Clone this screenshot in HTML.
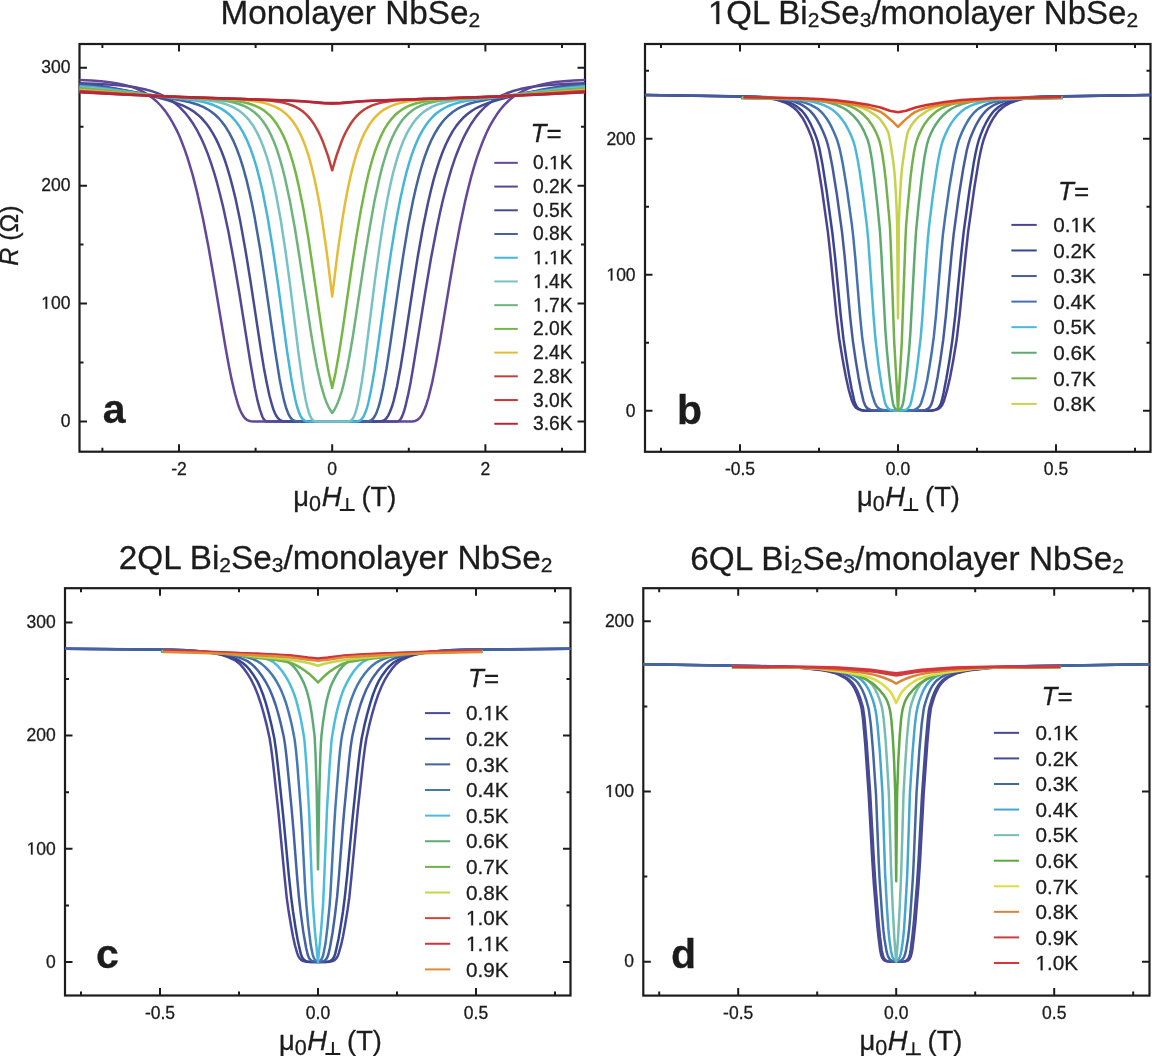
<!DOCTYPE html>
<html><head><meta charset="utf-8"><style>
html,body{margin:0;padding:0;background:#fff;width:1152px;height:1056px;overflow:hidden}
svg{display:block;transform:translateZ(0)}
text{font-family:"Liberation Sans", sans-serif;fill:#1c1c1c;stroke:#1c1c1c;stroke-width:0.3px}
.tk{font-size:17.5px}
.lga{font-size:19.3px}
.lgb{font-size:20.7px}
.teq{font-size:26px}
.ax{font-size:27.3px}
.yl{font-size:25px}
.axs{font-size:21.5px}
.ti{font-size:33px}
.sb{font-size:21px}
.h1{fill:none;stroke:none}
.pl{font-size:41px;font-weight:bold}
</style></head><body>
<svg width="1152" height="1056" viewBox="0 0 1152 1056">
<path d="M179.00 451.70v-7.5M179.00 44.00v7.5M332.20 451.70v-7.5M332.20 44.00v7.5M485.40 451.70v-7.5M485.40 44.00v7.5M102.40 451.70v-4M102.40 44.00v4M255.60 451.70v-4M255.60 44.00v4M408.80 451.70v-4M408.80 44.00v4M562.00 451.70v-4M562.00 44.00v4M79.50 421.50h7.5M585.00 421.50h-7.5M79.50 303.57h7.5M585.00 303.57h-7.5M79.50 185.64h7.5M585.00 185.64h-7.5M79.50 67.71h7.5M585.00 67.71h-7.5M79.50 362.53h4M585.00 362.53h-4M79.50 244.60h4M585.00 244.60h-4M79.50 126.68h4M585.00 126.68h-4" stroke="#1c1c1c" stroke-width="2" fill="none"/>
<rect x="79.50" y="44.00" width="505.50" height="407.70" stroke="#1c1c1c" stroke-width="2.2" fill="none"/>
<text x="179.00" y="474.50" text-anchor="middle" class="tk">-2</text>
<text x="332.20" y="474.50" text-anchor="middle" class="tk">0</text>
<text x="485.40" y="474.50" text-anchor="middle" class="tk">2</text>
<text x="70.40" y="426.70" text-anchor="end" class="tk">0</text>
<text x="70.40" y="308.77" text-anchor="end" class="tk"><tspan class="h1">1</tspan>00</text>
<text x="70.40" y="190.84" text-anchor="end" class="tk">200</text>
<text x="70.40" y="72.91" text-anchor="end" class="tk">300</text>
<path d="M79.5 79.9 91.1 80.5 101.1 81.3 109.7 82.2 117.4 83.4 124.5 84.9 130.9 86.7 136.8 88.9 142.2 91.3 147.2 94.2 152.1 97.6 156.7 101.5 161.1 106.0 165.3 111.1 169.1 116.7 172.8 122.9 176.4 129.6 179.3 135.8 181.9 142.3 184.6 149.4 187.3 157.2 192.6 174.6 197.6 194.4 203.0 218.8 208.4 246.6 213.6 276.3 225.4 346.8 228.6 364.5 231.5 378.9 234.9 393.5 238.2 405.0 239.9 409.5 241.6 413.2 243.3 416.1 245.0 418.2 246.8 419.8 248.7 420.7 250.9 421.3 253.6 421.5 407.4 421.5 412.3 421.4 415.2 420.9 417.5 419.8 419.7 417.9 421.9 414.9 424.1 410.5 426.3 404.7 428.5 397.5 432.2 382.4 436.2 362.2 440.3 339.4 450.2 279.7 454.9 252.6 460.1 225.0 465.0 201.9 467.9 189.7 470.9 177.9 473.8 167.7 476.8 157.9 479.9 149.1 483.1 140.8 486.3 133.3 489.6 126.4 493.2 120.1 496.9 114.3 500.6 109.3 504.6 104.6 508.8 100.5 513.4 96.8 518.3 93.5 523.3 90.8 528.7 88.4 534.4 86.4 540.9 84.7 547.8 83.3 555.3 82.1 563.9 81.2 573.7 80.5 585.0 79.9" stroke="#63479a" stroke-width="2.5" fill="none" stroke-linejoin="round"/>
<path d="M79.5 83.2 95.0 83.7 107.8 84.4 118.8 85.2 128.4 86.3 137.0 87.6 144.7 89.2 151.6 91.1 158.0 93.4 164.1 96.2 169.8 99.5 175.0 103.2 179.9 107.4 184.6 112.3 189.0 117.7 193.2 123.8 197.3 130.7 200.8 137.6 204.2 145.0 207.6 153.4 210.8 162.3 214.0 172.3 217.0 182.7 220.0 194.2 222.9 206.1 228.5 232.0 234.2 262.7 239.6 294.7 250.2 361.5 254.9 388.2 257.6 400.9 260.0 409.9 262.3 416.5 263.3 418.5 264.5 420.1 265.9 421.2 267.4 421.5 396.8 421.5 398.3 421.3 399.6 420.4 401.0 418.6 402.3 415.9 403.7 412.3 405.2 407.2 408.2 394.4 410.8 381.4 413.6 364.9 425.3 292.0 431.0 258.3 437.1 226.5 440.1 212.3 443.1 199.3 446.0 188.0 448.9 177.6 451.7 168.2 454.7 159.1 457.8 151.0 461.0 143.2 464.2 136.3 467.6 129.9 471.6 123.2 475.8 117.1 480.2 111.8 484.9 107.0 489.8 102.9 495.0 99.2 500.7 96.0 506.8 93.3 513.2 91.0 520.1 89.1 527.7 87.6 536.3 86.3 545.7 85.2 556.7 84.4 569.5 83.7 585.0 83.2" stroke="#544795" stroke-width="2.5" fill="none" stroke-linejoin="round"/>
<path d="M79.5 84.0 89.6 84.8 100.4 86.1 112.4 87.9 125.7 90.4 142.2 93.8 157.0 97.3 168.1 100.3 177.1 103.3 183.1 105.7 188.5 108.3 193.1 111.1 197.4 114.4 201.7 118.3 205.5 122.6 209.2 127.5 212.6 132.8 215.8 138.6 218.8 144.9 221.7 151.8 224.6 159.5 227.4 168.2 230.1 177.4 232.8 187.6 235.4 198.1 240.4 222.1 245.6 251.0 250.5 281.3 261.1 351.0 263.8 367.4 266.4 381.2 269.4 395.5 272.3 406.0 273.6 409.9 275.1 413.5 276.6 416.3 278.2 418.4 279.7 419.8 281.4 420.7 283.2 421.3 285.6 421.5 375.0 421.5 379.6 421.4 382.1 421.0 384.3 420.1 386.2 418.5 388.2 415.6 390.0 411.8 391.9 406.8 393.8 400.4 397.0 386.6 400.5 367.8 404.2 345.0 413.3 285.0 417.8 256.4 422.9 227.8 427.8 203.7 430.7 191.3 433.5 180.1 436.6 169.5 439.6 160.2 442.8 151.5 446.0 144.0 449.4 137.1 452.9 130.9 456.3 125.9 460.0 121.3 463.8 117.2 468.1 113.5 472.3 110.5 476.8 107.8 482.2 105.3 488.4 102.9 497.5 100.0 508.7 97.0 523.7 93.5 540.0 90.1 553.0 87.8 564.4 86.0 575.1 84.7 585.0 84.0" stroke="#464a90" stroke-width="2.5" fill="none" stroke-linejoin="round"/>
<path d="M79.5 85.0 87.6 85.6 96.2 86.4 115.9 89.1 173.2 98.9 183.0 100.7 189.9 102.2 194.9 103.7 199.5 105.3 203.7 107.2 207.6 109.3 211.3 111.7 214.8 114.5 218.0 117.5 221.2 121.0 225.4 126.6 229.3 132.9 233.0 140.1 236.5 148.3 239.9 157.4 243.1 167.5 246.3 179.1 249.3 191.6 252.0 204.0 254.7 217.6 260.1 248.7 265.0 280.7 275.0 350.0 279.5 378.4 281.9 390.8 284.2 401.2 286.4 408.8 288.6 414.3 290.5 417.6 292.3 419.6 294.3 420.8 296.9 421.4 362.9 421.5 367.1 421.4 369.5 421.0 371.5 420.1 373.2 418.5 375.0 415.8 376.7 412.2 378.4 407.4 380.1 401.4 383.1 387.8 386.5 368.9 390.0 346.0 399.0 283.4 403.4 254.4 408.2 225.3 413.1 200.3 416.0 187.5 418.9 176.1 421.9 165.5 424.9 156.2 428.1 147.6 431.3 140.2 434.7 133.6 438.4 127.5 441.6 123.0 445.1 118.8 448.9 115.2 452.7 112.0 456.9 109.2 461.3 106.9 466.2 104.8 471.6 103.0 478.2 101.4 488.6 99.3 546.6 89.4 567.5 86.5 576.4 85.6 585.0 85.0" stroke="#41659f" stroke-width="2.5" fill="none" stroke-linejoin="round"/>
<path d="M79.5 86.3 93.1 87.3 108.7 89.1 157.9 95.9 191.7 99.9 202.7 101.8 208.1 103.2 213.0 104.8 217.5 106.8 221.5 108.9 225.4 111.4 229.0 114.2 232.3 117.4 235.5 121.0 239.6 126.6 243.5 133.1 247.0 140.3 250.4 148.4 253.6 157.5 256.8 168.1 259.8 179.7 262.7 192.0 267.7 217.7 272.9 249.3 277.7 281.8 286.9 350.0 291.0 376.8 293.2 389.3 295.2 399.1 297.2 407.0 299.1 412.6 300.7 416.3 302.4 418.8 304.3 420.4 305.5 421.0 306.6 421.3 309.8 421.5 353.0 421.5 356.7 421.4 358.7 421.1 360.6 420.2 362.2 418.5 363.9 415.8 365.4 412.3 367.0 407.8 368.5 402.2 371.3 388.7 374.4 370.9 377.7 348.1 386.5 283.5 390.9 253.1 395.8 222.8 400.5 197.9 403.4 184.9 406.2 173.3 409.1 163.1 412.1 153.7 415.3 145.2 418.5 137.9 422.1 131.1 425.8 125.2 429.0 120.9 432.5 117.0 436.2 113.5 440.3 110.5 444.5 108.0 449.2 105.7 454.2 103.9 460.0 102.3 465.9 101.0 472.4 100.0 506.6 95.9 554.8 89.2 570.8 87.4 585.0 86.3" stroke="#45b5d9" stroke-width="2.5" fill="none" stroke-linejoin="round"/>
<path d="M79.5 87.4 91.6 88.2 104.9 89.5 148.2 94.7 163.9 96.5 201.8 99.5 209.1 100.4 215.5 101.5 221.2 102.8 226.3 104.3 230.8 106.1 235.0 108.2 238.9 110.6 242.6 113.4 246.1 116.8 249.3 120.4 253.4 126.1 257.1 132.6 260.6 140.0 263.8 148.2 267.0 157.7 270.1 168.4 272.9 179.9 275.8 193.2 280.7 219.8 285.6 251.8 290.0 284.4 298.5 353.1 302.1 378.7 303.9 390.3 305.6 399.4 307.3 407.0 308.8 412.4 310.2 416.0 311.7 418.8 313.2 420.4 315.1 421.3 317.3 421.5 346.2 421.5 348.9 421.4 350.6 420.8 352.1 419.5 353.6 417.2 355.2 413.5 356.5 409.2 358.0 403.0 359.5 395.4 361.9 381.3 364.6 362.5 375.0 279.7 380.1 242.9 382.8 225.4 385.3 210.4 388.0 196.0 390.7 183.2 393.2 172.5 395.8 163.1 398.3 154.7 401.0 147.0 403.9 139.8 406.7 133.7 409.8 128.1 413.0 123.2 416.2 119.1 419.7 115.3 423.4 112.1 427.5 109.3 431.8 106.9 436.6 104.9 441.8 103.2 447.5 101.8 454.4 100.5 462.3 99.6 500.4 96.5 516.1 94.8 559.4 89.5 572.9 88.2 585.0 87.4" stroke="#78c2c6" stroke-width="2.5" fill="none" stroke-linejoin="round"/>
<path d="M79.5 88.3 91.1 89.1 103.9 90.2 161.7 96.2 177.6 97.4 209.9 99.2 219.7 100.1 227.8 101.3 233.7 102.5 238.9 104.0 243.6 105.7 247.8 107.8 251.7 110.2 255.4 113.1 259.0 116.5 262.2 120.3 265.5 125.0 268.6 130.2 271.4 135.9 274.3 142.6 277.0 149.9 279.7 158.3 282.4 167.8 284.9 177.8 289.8 200.4 294.7 227.2 299.4 256.6 310.9 332.4 314.1 351.5 317.1 367.7 320.8 384.3 324.4 396.7 326.2 401.7 328.2 406.3 330.2 410.0 332.2 413.0 334.3 410.0 336.2 406.3 338.1 401.9 340.0 396.7 341.9 390.8 343.7 383.9 347.4 367.2 350.4 351.0 353.6 331.7 364.9 257.0 369.7 227.7 374.7 199.9 379.6 177.4 382.1 167.4 384.7 158.5 387.3 150.1 390.0 142.8 392.9 136.1 395.8 130.3 398.8 125.1 402.2 120.3 405.4 116.6 408.9 113.2 412.6 110.3 416.5 107.8 420.9 105.7 425.6 103.9 430.8 102.5 436.7 101.2 444.8 100.1 454.6 99.2 486.9 97.4 502.6 96.2 560.4 90.2 573.4 89.1 585.0 88.3" stroke="#6cb47c" stroke-width="2.5" fill="none" stroke-linejoin="round"/>
<path d="M79.5 89.1 102.8 90.8 162.6 96.3 179.3 97.3 217.5 99.1 228.5 100.0 237.2 101.1 243.5 102.2 248.8 103.5 253.7 105.2 258.1 107.1 262.2 109.3 266.0 112.1 269.6 115.2 272.8 118.7 276.6 123.8 280.2 129.6 283.6 136.3 286.8 143.8 289.8 152.3 292.8 162.2 295.7 172.9 298.5 185.1 303.3 208.5 308.2 237.1 312.5 265.9 321.6 329.0 325.5 353.8 328.9 372.9 332.2 388.1 335.5 372.9 339.0 353.2 342.9 328.3 351.8 266.3 356.2 237.6 361.1 208.9 365.8 185.4 368.6 173.2 371.5 162.4 374.5 152.5 377.6 144.0 380.8 136.4 384.1 129.7 387.7 123.9 391.6 118.8 394.8 115.3 398.3 112.2 402.2 109.4 406.2 107.1 410.6 105.2 415.5 103.5 420.9 102.2 427.1 101.1 435.9 100.0 446.8 99.1 485.2 97.3 501.9 96.3 561.6 90.8 585.0 89.1" stroke="#74b747" stroke-width="2.5" fill="none" stroke-linejoin="round"/>
<path d="M79.5 90.1 100.1 91.4 145.0 95.0 165.1 96.4 182.3 97.3 229.1 99.1 240.4 99.8 249.5 100.6 255.6 101.4 261.0 102.3 265.7 103.4 270.1 104.8 274.1 106.3 277.8 108.1 281.4 110.3 284.6 112.7 288.8 116.6 292.7 121.2 296.2 126.4 299.6 132.5 302.8 139.5 305.8 147.4 308.7 156.2 311.5 166.5 314.2 177.7 316.7 189.6 319.3 203.0 321.8 218.1 326.9 253.2 332.2 296.6 337.6 252.4 342.7 217.5 345.2 202.5 347.8 189.1 350.3 177.2 353.0 166.1 355.8 155.9 358.7 147.2 361.7 139.3 364.9 132.3 368.3 126.3 371.8 121.1 375.7 116.5 379.9 112.6 383.1 110.2 386.7 108.1 390.4 106.3 394.4 104.7 398.8 103.4 403.5 102.3 408.9 101.3 415.0 100.6 424.1 99.8 435.4 99.1 482.2 97.3 499.2 96.4 519.3 95.0 564.4 91.4 585.0 90.1" stroke="#e6bb36" stroke-width="2.5" fill="none" stroke-linejoin="round"/>
<path d="M79.5 90.9 145.6 95.3 169.3 96.6 189.2 97.4 244.5 99.1 260.6 99.9 269.4 100.6 276.6 101.5 282.9 102.6 288.4 104.1 292.3 105.5 296.0 107.2 299.4 109.1 302.6 111.3 305.6 113.9 308.5 116.9 311.2 120.1 313.7 123.7 316.2 127.8 318.6 132.2 321.0 137.2 323.3 142.8 327.9 155.6 332.2 170.3 336.6 155.3 341.2 142.5 343.5 136.9 345.9 132.0 348.3 127.6 350.8 123.5 353.3 120.0 356.0 116.7 358.9 113.8 361.9 111.3 365.1 109.0 368.5 107.1 372.2 105.4 376.1 104.1 381.5 102.6 387.7 101.5 394.9 100.6 403.7 99.9 419.9 99.1 475.3 97.4 495.2 96.6 518.9 95.3 585.0 90.9" stroke="#c0413a" stroke-width="2.5" fill="none" stroke-linejoin="round"/>
<path d="M79.5 91.9 123.8 94.4 168.6 96.4 205.4 97.8 288.6 100.4 302.9 101.3 324.6 103.4 332.2 103.8 339.8 103.4 361.4 101.3 375.9 100.4 459.1 97.8 495.9 96.4 540.7 94.4 585.0 91.9" stroke="#cf3336" stroke-width="2.5" fill="none" stroke-linejoin="round"/>
<path d="M79.5 92.2 123.0 94.6 167.1 96.5 203.7 97.8 285.7 100.4 301.4 101.2 323.5 102.8 332.2 103.1 341.0 102.8 362.9 101.2 378.6 100.4 460.8 97.8 497.4 96.5 541.5 94.6 585.0 92.2" stroke="#b1283a" stroke-width="2.5" fill="none" stroke-linejoin="round"/>
<text x="530.60" y="141.50" class="teq"><tspan font-style="italic">T</tspan>=</text>
<path d="M494.30 162.85h23.5" stroke="#63479a" stroke-width="2.0"/>
<text x="533.00" y="169.30" class="lga">0.<tspan class="h1">1</tspan>K</text>
<path d="M494.30 186.57h23.5" stroke="#544795" stroke-width="2.0"/>
<text x="533.00" y="193.02" class="lga">0.2K</text>
<path d="M494.30 210.29h23.5" stroke="#464a90" stroke-width="2.0"/>
<text x="533.00" y="216.74" class="lga">0.5K</text>
<path d="M494.30 234.01h23.5" stroke="#41659f" stroke-width="2.0"/>
<text x="533.00" y="240.46" class="lga">0.8K</text>
<path d="M494.30 257.73h23.5" stroke="#45b5d9" stroke-width="2.0"/>
<text x="533.00" y="264.18" class="lga"><tspan class="h1">1</tspan>.<tspan class="h1">1</tspan>K</text>
<path d="M494.30 281.45h23.5" stroke="#78c2c6" stroke-width="2.0"/>
<text x="533.00" y="287.90" class="lga"><tspan class="h1">1</tspan>.4K</text>
<path d="M494.30 305.17h23.5" stroke="#6cb47c" stroke-width="2.0"/>
<text x="533.00" y="311.62" class="lga"><tspan class="h1">1</tspan>.7K</text>
<path d="M494.30 328.89h23.5" stroke="#74b747" stroke-width="2.0"/>
<text x="533.00" y="335.34" class="lga">2.0K</text>
<path d="M494.30 352.61h23.5" stroke="#e6bb36" stroke-width="2.0"/>
<text x="533.00" y="359.06" class="lga">2.4K</text>
<path d="M494.30 376.33h23.5" stroke="#c0413a" stroke-width="2.0"/>
<text x="533.00" y="382.78" class="lga">2.8K</text>
<path d="M494.30 400.05h23.5" stroke="#cf3336" stroke-width="2.0"/>
<text x="533.00" y="406.50" class="lga">3.0K</text>
<path d="M494.30 423.77h23.5" stroke="#b1283a" stroke-width="2.0"/>
<text x="533.00" y="430.22" class="lga">3.6K</text>
<text x="102.7" y="423.3" class="pl">a</text>
<g transform="translate(293.30 505.70)"><text x="0" y="0" class="ax">μ</text><text x="15.8" y="5.5" class="axs">0</text><text x="28.4" y="0" class="ax" font-style="italic">H</text><path d="M46.5 4.4H61.4M54 -7.6V4.4" stroke="#1c1c1c" stroke-width="2" fill="none"/><text x="68.2" y="0" class="ax">(T)</text></g>
<text transform="translate(17.8 265.8) rotate(-90)" class="yl"><tspan font-style="italic">R</tspan> (Ω)</text>
<text x="220.50" y="24.00" class="ti" style="font-size:33.3px">Monolayer NbSe<tspan class="sb" dy="3">2</tspan></text>
<path d="M740.00 451.80v-7.5M740.00 44.00v7.5M898.00 451.80v-7.5M898.00 44.00v7.5M1056.00 451.80v-7.5M1056.00 44.00v7.5M661.00 451.80v-4M661.00 44.00v4M819.00 451.80v-4M819.00 44.00v4M977.00 451.80v-4M977.00 44.00v4M1135.00 451.80v-4M1135.00 44.00v4M645.00 410.80h7.5M1150.50 410.80h-7.5M645.00 274.80h7.5M1150.50 274.80h-7.5M645.00 138.80h7.5M1150.50 138.80h-7.5M645.00 342.80h4M1150.50 342.80h-4M645.00 206.80h4M1150.50 206.80h-4M645.00 70.80h4M1150.50 70.80h-4" stroke="#1c1c1c" stroke-width="2" fill="none"/>
<rect x="645.00" y="44.00" width="505.50" height="407.80" stroke="#1c1c1c" stroke-width="2.2" fill="none"/>
<text x="740.00" y="474.50" text-anchor="middle" class="tk">-0.5</text>
<text x="898.00" y="474.50" text-anchor="middle" class="tk">0.0</text>
<text x="1056.00" y="474.50" text-anchor="middle" class="tk">0.5</text>
<text x="635.60" y="416.50" text-anchor="end" class="tk">0</text>
<text x="635.60" y="280.50" text-anchor="end" class="tk"><tspan class="h1">1</tspan>00</text>
<text x="635.60" y="144.50" text-anchor="end" class="tk">200</text>
<path d="M645.0 95.0 739.5 96.5 755.7 97.0 766.5 97.9 771.4 98.6 777.6 100.1 782.2 101.5 786.4 103.2 790.1 105.2 793.8 107.8 796.6 110.3 799.3 113.4 802.4 117.7 805.2 122.7 808.1 128.7 810.8 135.4 812.5 140.1 814.0 145.5 815.7 152.9 817.4 161.5 821.8 188.5 828.0 232.8 830.5 255.8 836.4 315.2 839.3 339.0 842.7 359.8 845.9 377.0 848.7 389.6 851.7 400.1 853.3 403.9 855.1 406.8 856.3 408.0 857.5 408.8 860.3 409.9 863.5 410.5 868.1 410.7 893.5 410.8 926.1 410.7 931.3 410.6 934.7 410.1 937.9 409.1 940.2 407.5 942.2 404.9 943.9 401.1 947.1 390.2 950.0 377.8 953.2 360.7 956.6 340.1 959.6 315.1 965.7 254.1 968.2 231.4 974.4 187.3 978.8 160.6 980.5 152.1 982.2 144.8 983.5 140.1 985.5 134.5 988.2 127.9 991.1 122.0 994.0 117.2 997.0 113.0 999.5 110.2 1002.4 107.7 1006.1 105.1 1009.8 103.1 1014.0 101.5 1018.6 100.0 1024.6 98.6 1029.5 97.9 1040.3 97.0 1056.5 96.5 1150.5 95.0" stroke="#4a4390" stroke-width="2.5" fill="none" stroke-linejoin="round"/>
<path d="M645.0 95.0 746.9 96.6 760.4 97.1 771.0 98.0 776.4 98.9 782.5 100.2 787.0 101.7 791.4 103.4 795.3 105.6 799.0 108.2 801.9 110.8 804.6 114.0 807.6 118.5 810.6 123.9 813.5 130.2 816.2 137.1 817.7 141.7 819.2 147.6 822.4 163.9 826.6 190.8 832.5 234.0 835.1 257.5 840.8 316.1 843.5 339.4 846.4 359.0 849.1 375.4 851.6 388.8 854.3 400.8 855.5 404.3 857.0 407.1 858.8 408.9 861.2 410.0 863.7 410.5 867.4 410.7 887.9 410.8 925.2 410.8 929.9 410.7 933.0 410.4 935.8 409.6 938.0 408.2 939.7 406.0 941.1 402.9 942.1 399.4 943.6 392.7 946.4 378.2 949.3 361.1 952.3 340.6 955.2 316.0 961.1 255.7 963.6 232.6 969.7 188.5 973.9 161.9 975.6 153.0 977.3 145.5 978.8 140.0 980.8 134.4 983.5 127.8 986.4 122.0 989.4 116.9 992.6 112.5 995.3 109.7 998.2 107.3 1001.9 104.9 1005.6 103.0 1010.1 101.3 1014.5 100.0 1020.6 98.7 1026.1 97.9 1036.1 97.1 1049.9 96.6 1150.5 95.0" stroke="#3a4591" stroke-width="2.5" fill="none" stroke-linejoin="round"/>
<path d="M645.0 95.0 751.8 96.6 765.5 97.1 773.1 97.7 781.3 98.8 788.1 100.1 793.3 101.4 798.3 103.2 802.7 105.4 806.9 108.2 810.1 110.9 813.2 114.3 816.7 119.3 819.9 124.9 822.9 131.2 826.0 138.8 827.5 143.6 829.2 150.3 832.5 167.2 836.9 194.8 842.1 232.6 844.7 256.9 850.2 317.4 852.9 341.3 855.8 361.1 858.5 377.4 860.8 389.6 863.5 401.1 864.9 404.8 866.4 407.3 868.3 409.0 870.6 410.0 873.3 410.5 877.0 410.7 897.9 410.8 919.0 410.7 922.7 410.5 925.4 410.0 927.7 409.0 929.6 407.3 931.1 404.8 932.5 401.0 935.2 389.6 937.7 376.4 940.4 359.9 943.2 340.0 945.9 315.6 951.3 256.8 953.7 234.0 958.7 197.0 963.3 168.2 966.8 150.2 968.5 143.6 970.0 138.8 973.1 131.2 976.1 124.8 979.3 119.3 982.7 114.5 985.9 110.9 988.9 108.3 993.1 105.5 997.5 103.3 1002.6 101.5 1007.8 100.1 1014.5 98.8 1022.8 97.8 1030.5 97.1 1044.0 96.6 1150.5 95.0" stroke="#465b9c" stroke-width="2.5" fill="none" stroke-linejoin="round"/>
<path d="M740.9 98.1 769.4 98.7 785.1 99.5 791.4 100.1 797.5 101.0 801.7 101.9 806.1 103.1 810.1 104.6 814.0 106.6 817.6 108.8 820.5 111.2 823.5 114.4 826.3 118.0 829.0 122.2 831.6 127.1 834.2 132.7 836.8 139.1 838.2 143.4 839.6 148.6 841.3 156.3 843.1 165.8 847.1 190.3 851.8 224.2 853.3 237.2 855.3 258.2 859.9 314.0 862.1 336.6 864.1 350.8 866.6 367.6 868.7 379.2 870.6 388.5 872.1 394.3 874.7 402.5 876.3 405.7 878.3 408.1 879.5 408.9 880.9 409.5 884.2 410.3 889.0 410.7 898.0 410.8 906.9 410.7 911.6 410.4 914.9 409.6 917.5 408.2 919.6 406.0 921.3 402.7 923.8 394.4 925.2 389.1 927.2 380.0 929.3 367.8 931.8 351.8 933.8 336.9 936.1 314.4 940.8 257.4 942.8 235.6 945.1 217.3 949.4 187.0 953.3 163.7 955.1 154.5 956.8 147.1 958.3 141.7 959.8 137.5 962.5 131.1 965.2 125.5 967.9 120.8 970.6 116.7 973.5 113.2 976.5 110.3 979.9 107.8 984.1 105.5 987.7 103.9 992.3 102.4 996.8 101.3 1002.3 100.4 1007.8 99.8 1015.2 99.2 1032.4 98.5 1063.0 98.0" stroke="#4472b0" stroke-width="2.5" fill="none" stroke-linejoin="round"/>
<path d="M741.6 98.0 775.7 98.6 794.6 99.5 801.8 100.1 808.6 101.0 813.7 102.0 819.1 103.5 823.8 105.1 828.7 107.5 832.5 109.8 835.7 112.4 839.3 116.0 842.6 120.1 845.7 124.8 848.7 130.3 851.2 135.6 853.2 140.7 854.7 145.8 856.2 152.2 858.0 161.6 859.8 172.5 863.8 200.7 866.9 225.9 868.2 239.4 873.5 315.4 875.3 337.5 878.7 366.8 881.9 387.7 884.7 401.6 885.8 404.8 887.1 407.2 888.7 408.9 890.8 410.0 893.6 410.5 898.0 410.8 902.4 410.5 905.2 410.0 907.2 409.0 908.8 407.4 910.1 405.1 911.1 402.0 914.0 388.4 915.6 378.5 917.2 366.9 920.7 337.6 922.5 315.5 926.3 259.2 927.9 238.2 929.2 225.1 932.7 196.6 936.7 169.2 938.5 158.7 940.3 149.8 941.8 143.9 943.2 139.5 945.6 133.9 948.1 128.6 951.1 123.4 954.3 118.9 957.9 114.8 961.7 111.2 965.3 108.6 969.8 106.2 974.3 104.3 979.5 102.7 984.8 101.5 991.2 100.5 997.1 99.8 1005.3 99.2 1026.1 98.5 1062.3 97.9" stroke="#4ab8da" stroke-width="2.5" fill="none" stroke-linejoin="round"/>
<path d="M741.9 97.9 780.1 98.5 801.9 99.2 811.0 99.9 818.2 100.7 825.4 101.9 831.2 103.3 836.3 104.8 841.2 107.0 845.7 109.4 849.3 112.1 853.7 116.2 857.4 120.3 860.7 125.1 863.8 130.7 867.5 139.2 869.4 146.1 871.9 159.6 874.4 178.3 877.4 205.1 880.0 232.2 881.4 254.4 885.4 330.7 886.8 349.1 889.1 373.5 891.1 391.1 892.4 400.0 893.1 403.8 894.0 406.5 895.1 408.5 896.3 409.7 898.0 410.4 899.7 409.7 900.9 408.5 902.0 406.5 902.9 403.8 903.6 400.0 904.9 391.2 906.9 373.6 909.2 349.2 910.5 330.9 914.6 254.6 916.1 230.9 918.8 203.1 921.8 176.7 924.4 157.6 926.9 144.8 928.7 138.7 930.8 133.6 933.0 129.2 936.1 123.9 939.5 119.3 943.2 115.2 947.9 111.1 951.8 108.5 956.8 106.0 961.2 104.3 966.8 102.7 972.4 101.6 979.7 100.5 987.7 99.7 995.9 99.1 1020.5 98.4 1062.3 97.8" stroke="#5eab72" stroke-width="2.5" fill="none" stroke-linejoin="round"/>
<path d="M742.2 97.8 780.9 98.3 808.0 99.2 817.4 99.8 826.8 100.8 834.0 101.8 840.1 103.1 846.4 104.9 850.7 106.5 856.1 109.2 859.7 111.5 864.6 115.8 868.4 119.9 872.0 124.9 875.2 130.7 877.7 136.3 879.5 141.2 881.0 147.2 882.5 155.2 884.2 167.0 885.8 180.5 889.0 215.0 890.0 227.6 890.7 243.0 894.2 341.7 897.0 391.0 898.0 410.8 899.0 391.0 901.8 341.8 905.4 240.5 906.1 226.0 907.4 209.9 910.6 176.7 912.2 163.8 913.9 152.8 915.3 145.8 916.8 140.2 919.0 134.6 921.6 129.2 924.8 123.7 928.2 119.2 932.0 115.2 936.8 111.1 940.7 108.7 946.3 106.1 951.5 104.3 957.4 102.7 964.4 101.4 972.2 100.4 981.0 99.6 991.6 99.0 1018.3 98.2 1062.3 97.7" stroke="#74b14a" stroke-width="2.5" fill="none" stroke-linejoin="round"/>
<path d="M742.5 97.7 780.4 98.1 805.5 98.9 827.0 100.3 835.4 101.3 842.7 102.4 849.6 103.9 856.6 105.8 861.9 107.7 867.1 110.0 873.0 113.6 877.1 116.6 880.4 119.7 883.3 123.5 885.6 127.0 887.7 131.1 888.5 133.3 889.3 136.9 890.8 145.3 893.3 162.1 894.2 169.8 895.0 178.8 896.1 197.2 897.1 221.8 898.0 318.3 898.9 221.8 900.0 196.1 901.1 177.5 901.9 169.2 902.9 161.3 905.4 144.0 906.9 135.9 907.6 132.9 908.4 130.8 910.7 126.5 913.3 122.6 916.3 119.1 919.6 116.1 926.3 111.5 929.8 109.5 935.4 107.2 941.0 105.3 948.2 103.5 955.8 102.0 962.3 101.0 971.7 100.1 993.4 98.8 1017.3 98.1 1062.3 97.6" stroke="#c6d24c" stroke-width="2.5" fill="none" stroke-linejoin="round"/>
<path d="M743.2 97.5 784.9 98.3 797.0 98.7 808.4 99.4 819.6 100.4 832.5 102.1 848.7 103.9 860.8 105.8 866.5 107.0 871.8 108.5 876.9 110.3 881.2 112.2 884.7 114.6 890.6 119.7 894.1 122.9 898.0 126.8 901.9 122.9 905.4 119.6 911.3 114.6 915.0 112.1 919.5 110.1 924.8 108.3 930.3 106.8 936.4 105.5 945.5 104.2 963.6 102.1 975.7 100.5 989.8 99.2 1001.2 98.6 1014.8 98.2 1061.7 97.4" stroke="#e0862e" stroke-width="2.5" fill="none" stroke-linejoin="round"/>
<path d="M743.5 97.2 800.8 98.2 818.7 99.0 835.8 100.3 852.3 102.3 869.8 105.1 880.5 107.5 889.8 110.7 898.0 112.3 906.1 110.7 915.6 107.5 926.6 105.0 944.8 102.1 961.4 100.1 978.9 98.9 996.6 98.1 1061.4 97.1" stroke="#cf2f2f" stroke-width="2.5" fill="none" stroke-linejoin="round"/>
<text x="1058.00" y="199.60" class="teq"><tspan font-style="italic">T</tspan>=</text>
<path d="M1011.40 224.90h25.3" stroke="#4a4390" stroke-width="2.0"/>
<text x="1053.20" y="232.20" class="lgb">0.<tspan class="h1">1</tspan>K</text>
<path d="M1011.40 250.47h25.3" stroke="#3a4591" stroke-width="2.0"/>
<text x="1053.20" y="257.77" class="lgb">0.2K</text>
<path d="M1011.40 276.04h25.3" stroke="#465b9c" stroke-width="2.0"/>
<text x="1053.20" y="283.34" class="lgb">0.3K</text>
<path d="M1011.40 301.61h25.3" stroke="#4472b0" stroke-width="2.0"/>
<text x="1053.20" y="308.91" class="lgb">0.4K</text>
<path d="M1011.40 327.18h25.3" stroke="#4ab8da" stroke-width="2.0"/>
<text x="1053.20" y="334.48" class="lgb">0.5K</text>
<path d="M1011.40 352.75h25.3" stroke="#5eab72" stroke-width="2.0"/>
<text x="1053.20" y="360.05" class="lgb">0.6K</text>
<path d="M1011.40 378.32h25.3" stroke="#74b14a" stroke-width="2.0"/>
<text x="1053.20" y="385.62" class="lgb">0.7K</text>
<path d="M1011.40 403.89h25.3" stroke="#c6d24c" stroke-width="2.0"/>
<text x="1053.20" y="411.19" class="lgb">0.8K</text>
<text x="676.9" y="423.8" class="pl">b</text>
<g transform="translate(856.90 505.50)"><text x="0" y="0" class="ax">μ</text><text x="15.8" y="5.5" class="axs">0</text><text x="28.4" y="0" class="ax" font-style="italic">H</text><path d="M46.5 4.4H61.4M54 -7.6V4.4" stroke="#1c1c1c" stroke-width="2" fill="none"/><text x="68.2" y="0" class="ax">(T)</text></g>
<text x="708.00" y="24.00" class="ti" style="font-size:33.0px"><tspan class="h1">1</tspan>QL Bi<tspan class="sb" dy="3">2</tspan><tspan dy="-3">Se</tspan><tspan class="sb" dy="3">3</tspan><tspan dy="-3">/monolayer NbSe</tspan><tspan class="sb" dy="3">2</tspan></text>
<path d="M160.00 995.50v-7.5M160.00 588.20v7.5M318.00 995.50v-7.5M318.00 588.20v7.5M476.00 995.50v-7.5M476.00 588.20v7.5M81.00 995.50v-4M81.00 588.20v4M239.00 995.50v-4M239.00 588.20v4M397.00 995.50v-4M397.00 588.20v4M555.00 995.50v-4M555.00 588.20v4M65.00 962.00h7.5M570.50 962.00h-7.5M65.00 848.80h7.5M570.50 848.80h-7.5M65.00 735.60h7.5M570.50 735.60h-7.5M65.00 622.40h7.5M570.50 622.40h-7.5M65.00 905.40h4M570.50 905.40h-4M65.00 792.20h4M570.50 792.20h-4M65.00 679.00h4M570.50 679.00h-4" stroke="#1c1c1c" stroke-width="2" fill="none"/>
<rect x="65.00" y="588.20" width="505.50" height="407.30" stroke="#1c1c1c" stroke-width="2.2" fill="none"/>
<text x="160.00" y="1018.50" text-anchor="middle" class="tk">-0.5</text>
<text x="318.00" y="1018.50" text-anchor="middle" class="tk">0.0</text>
<text x="476.00" y="1018.50" text-anchor="middle" class="tk">0.5</text>
<text x="55.80" y="967.70" text-anchor="end" class="tk">0</text>
<text x="55.80" y="854.50" text-anchor="end" class="tk"><tspan class="h1">1</tspan>00</text>
<text x="55.80" y="741.30" text-anchor="end" class="tk">200</text>
<text x="55.80" y="628.10" text-anchor="end" class="tk">300</text>
<path d="M65.0 648.7 169.0 649.7 184.0 650.1 200.3 651.4 209.6 652.6 216.5 653.8 222.2 655.1 227.4 656.8 233.0 659.3 236.7 661.5 240.1 664.3 243.4 668.1 247.3 673.4 251.4 680.2 254.6 686.7 257.8 694.6 260.8 703.5 263.8 713.9 266.9 725.9 269.6 738.3 271.1 747.8 272.8 760.8 278.3 811.0 284.6 877.2 286.7 897.6 288.4 909.7 291.0 925.5 293.0 936.5 295.0 945.5 297.2 953.1 298.2 955.9 299.7 958.4 301.4 960.1 303.4 961.1 306.3 961.7 310.3 961.9 318.0 962.0 325.7 961.9 329.7 961.7 332.6 961.1 334.6 960.1 336.3 958.4 337.8 955.8 338.8 953.1 341.0 945.4 343.0 936.4 345.0 925.5 347.6 909.7 349.3 897.5 351.4 877.1 357.7 811.0 363.2 760.8 364.9 747.8 366.4 738.3 369.1 725.9 372.2 713.8 375.2 703.5 378.2 694.6 381.4 686.7 384.6 680.2 388.7 673.4 392.6 668.1 395.9 664.3 399.3 661.5 403.0 659.3 408.6 656.8 413.8 655.1 419.5 653.8 426.4 652.6 435.7 651.4 452.0 650.1 467.0 649.7 570.5 648.8" stroke="#4a4898" stroke-width="2.5" fill="none" stroke-linejoin="round"/>
<path d="M65.0 648.7 171.8 649.8 187.3 650.4 197.1 651.1 204.0 651.8 213.4 653.0 221.0 654.3 228.3 656.2 233.7 658.0 238.7 660.3 242.4 662.7 246.3 666.0 250.0 670.2 253.7 675.3 257.3 681.1 260.1 687.1 263.0 694.5 265.9 703.3 268.7 713.6 271.6 725.5 274.3 738.3 276.3 752.1 279.0 775.8 283.5 818.9 288.9 876.2 291.3 898.3 293.1 912.0 295.5 927.5 297.5 939.0 299.4 947.8 300.7 953.4 301.7 956.4 302.9 958.6 304.4 960.2 306.1 961.1 308.5 961.7 311.9 961.9 318.0 962.0 324.2 961.9 327.5 961.7 329.9 961.1 331.6 960.2 333.1 958.6 334.3 956.4 335.3 953.4 336.6 947.8 338.5 938.9 340.5 927.4 342.9 912.0 344.7 898.2 347.1 876.2 352.5 818.8 357.0 775.7 359.7 752.1 361.7 738.3 364.4 725.4 367.3 713.6 370.2 703.3 373.0 694.5 375.9 687.1 378.7 681.1 382.3 675.2 386.0 670.2 389.9 665.9 393.7 662.5 397.5 660.2 402.5 658.0 407.9 656.1 415.1 654.3 422.6 653.0 432.0 651.7 438.9 651.1 448.7 650.4 464.0 649.8 570.5 648.8" stroke="#33468f" stroke-width="2.5" fill="none" stroke-linejoin="round"/>
<path d="M65.0 648.7 161.4 649.6 177.7 649.9 190.9 650.4 211.8 652.3 221.2 653.6 229.3 655.0 236.9 656.9 242.6 658.9 247.0 660.9 250.7 663.4 254.6 666.8 258.3 671.0 262.3 676.5 266.2 682.7 269.6 689.3 272.6 696.5 275.5 704.5 278.3 714.0 281.0 724.4 283.7 736.4 285.2 745.9 286.7 758.6 291.6 808.7 293.3 828.2 297.2 878.1 298.9 897.0 300.9 914.3 303.4 932.6 306.1 947.7 307.6 954.3 308.9 957.7 310.3 959.8 312.0 961.0 314.4 961.7 318.0 961.9 321.6 961.7 324.0 961.0 325.7 959.8 327.1 957.7 328.4 954.3 329.9 947.7 332.6 932.5 335.1 914.2 337.1 896.9 338.8 878.0 342.7 828.2 344.4 808.7 349.3 758.5 350.8 745.9 352.3 736.3 355.0 724.3 357.7 714.0 360.5 704.5 363.4 696.5 366.4 689.3 369.8 682.7 373.5 676.7 377.6 671.2 381.3 667.0 385.1 663.5 388.9 661.0 393.2 658.9 399.0 657.0 406.5 655.1 414.5 653.6 423.7 652.4 444.6 650.5 457.6 649.9 474.5 649.6 570.5 648.8" stroke="#4462a6" stroke-width="2.5" fill="none" stroke-linejoin="round"/>
<path d="M160.9 651.4 193.7 652.1 219.3 653.3 228.2 654.0 236.1 655.0 242.5 656.1 248.1 657.5 253.5 659.4 257.5 661.2 261.2 663.6 264.8 666.6 268.7 670.6 272.5 675.3 276.1 680.7 279.2 686.3 281.5 691.1 283.6 696.4 285.7 702.2 287.7 708.8 289.7 716.4 291.7 724.5 293.9 735.4 294.8 740.6 296.0 750.5 297.3 764.1 300.7 808.0 301.9 826.7 305.4 892.2 306.4 905.2 308.3 925.3 310.5 943.0 311.3 948.1 312.8 955.1 313.8 957.9 314.9 959.7 316.2 960.9 318.0 961.6 319.8 960.9 321.1 959.8 322.2 958.0 323.2 955.2 325.5 943.3 327.6 925.8 329.7 904.5 330.5 892.8 334.1 827.5 335.3 808.5 338.8 763.3 340.1 749.9 341.3 740.1 342.2 734.5 344.5 723.8 346.5 715.3 348.6 707.8 350.6 701.3 352.8 695.4 355.0 690.0 357.5 684.9 360.7 679.4 364.5 674.0 368.2 669.5 372.1 665.7 375.7 662.9 379.4 660.8 384.0 658.8 389.4 657.1 395.6 655.7 402.0 654.7 410.2 653.8 420.2 653.1 445.6 652.0 483.0 651.3" stroke="#4578b0" stroke-width="2.5" fill="none" stroke-linejoin="round"/>
<path d="M161.6 651.3 197.3 652.0 231.5 653.4 241.3 654.1 249.1 654.9 255.5 655.8 261.3 657.0 265.9 658.5 270.3 660.4 273.5 662.3 276.6 664.9 279.9 668.4 283.2 672.6 286.4 677.6 289.6 683.4 291.9 688.5 294.1 694.0 296.1 700.2 298.0 707.1 300.0 715.2 301.9 724.7 303.8 735.8 304.6 741.8 306.4 764.9 309.1 811.0 311.9 883.7 312.9 903.7 314.8 929.8 318.0 962.0 321.1 930.1 323.1 904.1 324.0 884.3 327.0 809.4 329.6 765.3 331.4 742.0 332.2 735.9 334.3 723.7 336.2 714.3 338.3 705.9 340.3 698.8 342.4 692.6 344.7 687.1 347.3 681.8 350.5 676.2 353.8 671.2 357.1 667.2 360.4 663.9 363.5 661.6 367.1 659.7 371.9 657.8 376.7 656.6 382.5 655.5 389.9 654.5 398.6 653.8 409.8 653.1 443.7 651.9 482.6 651.2" stroke="#4cbcdc" stroke-width="2.5" fill="none" stroke-linejoin="round"/>
<path d="M161.9 651.2 191.8 651.7 228.7 653.0 255.0 654.4 262.9 655.0 269.3 655.8 274.2 656.6 278.8 657.8 282.7 659.1 286.2 660.8 289.0 662.5 291.8 664.8 294.5 667.6 296.9 670.7 300.2 675.9 303.6 682.4 305.8 688.0 307.7 694.2 309.7 702.3 311.4 711.7 313.0 723.1 314.6 736.0 315.5 753.5 316.7 791.5 318.0 869.2 319.3 791.9 320.4 754.0 321.0 742.3 321.5 735.2 323.1 721.9 324.8 710.5 326.5 701.4 328.5 693.5 330.5 687.1 332.9 681.6 336.3 675.1 339.7 669.9 342.2 666.9 344.8 664.3 347.7 662.0 350.5 660.4 354.2 658.8 358.1 657.5 363.1 656.4 368.2 655.6 375.3 654.8 384.5 654.1 414.6 652.7 449.4 651.6 482.6 651.1" stroke="#5eaa76" stroke-width="2.5" fill="none" stroke-linejoin="round"/>
<path d="M162.2 651.1 179.7 651.5 197.5 652.1 213.1 652.9 225.4 653.8 239.4 655.3 253.8 657.4 275.9 660.1 285.0 661.6 290.1 662.8 292.8 663.7 296.4 665.4 300.6 667.8 305.8 671.3 309.2 673.9 313.4 677.7 318.0 682.5 322.8 677.6 327.1 673.7 330.4 671.1 336.2 667.3 340.2 665.0 343.7 663.5 346.4 662.6 352.1 661.4 362.0 659.8 383.4 657.3 397.2 655.2 413.6 653.5 427.6 652.6 442.5 651.9 460.3 651.4 482.3 651.0" stroke="#6fb04a" stroke-width="2.5" fill="none" stroke-linejoin="round"/>
<path d="M162.5 651.0 182.4 651.4 202.6 652.1 220.9 653.0 236.7 654.3 254.1 656.2 281.0 658.8 292.9 660.3 301.1 661.6 308.5 663.0 312.6 664.0 318.0 665.8 323.4 664.0 327.6 663.0 335.1 661.5 343.4 660.2 355.4 658.8 381.7 656.2 401.1 654.1 417.7 652.9 437.1 651.9 458.4 651.3 482.3 650.9" stroke="#c2d650" stroke-width="2.5" fill="none" stroke-linejoin="round"/>
<path d="M163.2 651.0 183.7 651.3 206.2 651.9 248.4 653.6 272.2 654.7 291.5 656.1 308.3 658.5 318.0 659.5 327.7 658.5 344.7 656.0 366.2 654.6 388.2 653.5 434.5 651.8 457.9 651.2 482.0 650.9" stroke="#cf4535" stroke-width="2.5" fill="none" stroke-linejoin="round"/>
<path d="M163.2 650.6 185.4 651.0 208.0 651.7 274.0 654.4 291.5 655.5 308.2 657.6 318.0 658.5 327.7 657.6 344.6 655.5 364.1 654.3 433.5 651.5 455.1 650.9 482.0 650.5" stroke="#cf3340" stroke-width="2.5" fill="none" stroke-linejoin="round"/>
<path d="M163.2 652.1 187.6 652.5 213.0 653.3 277.0 656.3 292.1 657.4 308.3 659.7 318.0 660.7 327.6 659.7 344.2 657.3 360.9 656.2 404.3 654.1 431.4 653.0 456.5 652.4 482.0 652.0" stroke="#e28a34" stroke-width="2.5" fill="none" stroke-linejoin="round"/>
<text x="468.00" y="686.60" class="teq"><tspan font-style="italic">T</tspan>=</text>
<path d="M425.00 713.10h25.2" stroke="#4a4898" stroke-width="2.0"/>
<text x="466.00" y="720.30" class="lgb">0.<tspan class="h1">1</tspan>K</text>
<path d="M425.00 738.73h25.2" stroke="#33468f" stroke-width="2.0"/>
<text x="466.00" y="745.93" class="lgb">0.2K</text>
<path d="M425.00 764.36h25.2" stroke="#4462a6" stroke-width="2.0"/>
<text x="466.00" y="771.56" class="lgb">0.3K</text>
<path d="M425.00 789.99h25.2" stroke="#4578b0" stroke-width="2.0"/>
<text x="466.00" y="797.19" class="lgb">0.4K</text>
<path d="M425.00 815.62h25.2" stroke="#4cbcdc" stroke-width="2.0"/>
<text x="466.00" y="822.82" class="lgb">0.5K</text>
<path d="M425.00 841.25h25.2" stroke="#5eaa76" stroke-width="2.0"/>
<text x="466.00" y="848.45" class="lgb">0.6K</text>
<path d="M425.00 866.88h25.2" stroke="#6fb04a" stroke-width="2.0"/>
<text x="466.00" y="874.08" class="lgb">0.7K</text>
<path d="M425.00 892.51h25.2" stroke="#c2d650" stroke-width="2.0"/>
<text x="466.00" y="899.71" class="lgb">0.8K</text>
<path d="M425.00 918.14h25.2" stroke="#cf4535" stroke-width="2.0"/>
<text x="466.00" y="925.34" class="lgb"><tspan class="h1">1</tspan>.0K</text>
<path d="M425.00 943.77h25.2" stroke="#cf3340" stroke-width="2.0"/>
<text x="466.00" y="950.97" class="lgb"><tspan class="h1">1</tspan>.<tspan class="h1">1</tspan>K</text>
<path d="M425.00 969.40h25.2" stroke="#e28a34" stroke-width="2.0"/>
<text x="466.00" y="976.60" class="lgb">0.9K</text>
<text x="96" y="968" class="pl">c</text>
<g transform="translate(278.90 1049.70)"><text x="0" y="0" class="ax">μ</text><text x="15.8" y="5.5" class="axs">0</text><text x="28.4" y="0" class="ax" font-style="italic">H</text><path d="M46.5 4.4H61.4M54 -7.6V4.4" stroke="#1c1c1c" stroke-width="2" fill="none"/><text x="68.2" y="0" class="ax">(T)</text></g>
<text x="118.80" y="569.00" class="ti" style="font-size:33.3px">2QL Bi<tspan class="sb" dy="3">2</tspan><tspan dy="-3">Se</tspan><tspan class="sb" dy="3">3</tspan><tspan dy="-3">/monolayer NbSe</tspan><tspan class="sb" dy="3">2</tspan></text>
<path d="M738.20 995.60v-7.5M738.20 588.20v7.5M896.20 995.60v-7.5M896.20 588.20v7.5M1054.20 995.60v-7.5M1054.20 588.20v7.5M659.20 995.60v-4M659.20 588.20v4M817.20 995.60v-4M817.20 588.20v4M975.20 995.60v-4M975.20 588.20v4M1133.20 995.60v-4M1133.20 588.20v4M643.30 961.70h7.5M1149.50 961.70h-7.5M643.30 791.50h7.5M1149.50 791.50h-7.5M643.30 621.30h7.5M1149.50 621.30h-7.5M643.30 876.60h4M1149.50 876.60h-4M643.30 706.40h4M1149.50 706.40h-4" stroke="#1c1c1c" stroke-width="2" fill="none"/>
<rect x="643.30" y="588.20" width="506.20" height="407.40" stroke="#1c1c1c" stroke-width="2.2" fill="none"/>
<text x="738.20" y="1018.50" text-anchor="middle" class="tk">-0.5</text>
<text x="896.20" y="1018.50" text-anchor="middle" class="tk">0.0</text>
<text x="1054.20" y="1018.50" text-anchor="middle" class="tk">0.5</text>
<text x="634.10" y="967.30" text-anchor="end" class="tk">0</text>
<text x="634.10" y="797.10" text-anchor="end" class="tk"><tspan class="h1">1</tspan>00</text>
<text x="634.10" y="626.90" text-anchor="end" class="tk">200</text>
<path d="M643.3 664.3 759.2 666.1 783.5 666.8 800.4 667.8 822.2 670.2 827.9 671.2 833.6 672.7 838.7 674.7 844.4 677.6 847.8 680.0 850.7 682.9 852.9 685.8 854.9 689.2 856.7 693.2 858.6 698.1 860.3 703.4 861.5 707.9 863.0 718.8 865.2 744.0 868.7 794.6 872.3 860.4 873.8 883.4 877.2 924.3 878.5 937.2 880.2 950.3 881.0 954.5 881.9 957.1 882.9 959.0 884.3 960.4 885.8 961.1 887.8 961.5 896.2 961.7 904.8 961.5 906.7 961.1 908.2 960.4 909.6 958.9 910.6 957.0 911.4 954.2 912.3 949.9 913.9 936.7 915.3 923.7 918.5 884.8 920.0 862.2 923.7 793.6 927.3 743.2 929.5 718.2 931.0 707.6 933.9 697.9 935.7 693.1 937.6 689.1 939.6 685.7 941.8 682.8 944.7 679.9 948.0 677.5 953.8 674.6 958.8 672.7 964.6 671.2 970.3 670.2 992.2 667.8 1009.1 666.8 1033.2 666.1 1149.5 664.3" stroke="#4a4696" stroke-width="2.5" fill="none" stroke-linejoin="round"/>
<path d="M643.3 664.3 763.9 666.2 784.9 666.8 803.3 667.9 823.8 670.1 829.6 671.2 835.3 672.7 840.4 674.7 846.1 677.6 849.5 680.1 852.4 683.0 854.6 685.9 856.6 689.5 858.4 693.5 860.3 698.4 863.0 707.6 864.5 718.3 866.7 743.2 870.2 793.7 874.0 862.3 875.5 884.9 878.7 923.7 880.0 936.7 881.7 949.9 882.6 954.2 883.4 957.0 884.4 958.9 885.6 960.2 887.0 961.0 888.9 961.4 896.2 961.7 903.7 961.4 905.5 961.0 906.9 960.2 908.0 958.9 909.1 956.8 909.9 954.0 910.7 949.5 912.4 936.1 913.8 923.0 917.0 884.0 918.5 861.2 922.0 795.3 925.8 742.4 928.0 717.7 928.8 711.1 929.5 707.3 932.3 697.7 934.2 692.9 936.1 689.0 938.1 685.6 940.1 682.9 943.0 680.0 946.3 677.6 952.1 674.6 957.1 672.7 962.9 671.2 968.6 670.1 989.4 667.9 1007.8 666.8 1028.7 666.2 1149.5 664.3" stroke="#464b94" stroke-width="2.5" fill="none" stroke-linejoin="round"/>
<path d="M643.3 664.3 780.3 666.4 792.1 666.9 817.3 668.6 825.4 669.4 831.8 670.3 836.8 671.4 842.2 673.0 846.8 674.9 852.0 677.7 855.1 679.9 857.6 682.5 860.1 686.0 862.3 690.0 864.5 695.1 866.5 701.0 868.2 707.0 868.9 710.3 870.8 724.7 873.1 752.0 876.0 794.3 878.7 861.3 879.5 877.8 882.2 916.8 883.4 930.2 884.4 938.9 886.6 951.6 887.5 954.7 888.5 957.3 889.8 959.3 891.3 960.5 893.4 961.2 896.2 961.6 899.0 961.2 901.0 960.5 902.5 959.3 903.8 957.5 904.8 955.1 905.8 951.4 908.0 938.5 909.1 929.5 910.1 918.1 912.8 879.4 913.6 863.7 916.5 793.2 919.3 751.2 921.7 724.1 923.6 710.0 924.2 706.7 926.1 700.3 928.1 694.5 930.1 689.9 932.3 685.9 934.9 682.4 937.4 679.9 940.4 677.7 945.7 674.9 950.2 673.0 955.6 671.4 960.7 670.3 967.1 669.4 975.2 668.6 1000.3 666.9 1012.2 666.4 1149.5 664.3" stroke="#43689f" stroke-width="2.5" fill="none" stroke-linejoin="round"/>
<path d="M731.9 667.3 758.1 667.6 778.9 667.4 798.7 667.5 820.3 668.4 828.5 669.1 835.6 670.0 841.5 671.1 848.0 673.0 852.4 674.7 857.4 677.2 860.5 679.2 863.1 681.6 865.6 684.6 867.8 688.1 869.7 691.8 871.4 696.1 873.2 701.2 874.8 706.9 876.2 714.0 877.6 725.7 880.0 754.0 882.5 793.7 885.1 873.2 887.0 908.0 888.4 929.3 889.5 940.6 890.9 950.3 891.7 954.1 892.6 957.0 893.6 958.9 894.7 960.2 896.2 961.0 897.7 960.2 898.8 958.9 899.8 957.0 900.7 954.1 901.5 950.3 902.9 940.6 904.0 929.3 905.4 908.0 907.3 873.2 909.9 793.7 912.4 754.0 914.8 725.7 916.2 714.0 917.6 706.9 919.2 701.2 921.0 696.1 922.7 691.8 924.6 688.1 926.8 684.6 929.3 681.6 931.9 679.2 935.0 677.2 940.0 674.7 944.4 673.0 950.9 671.1 956.8 670.0 963.9 669.1 972.1 668.4 993.7 667.5 1013.5 667.4 1034.3 667.6 1060.5 667.3" stroke="#45a6d0" stroke-width="2.5" fill="none" stroke-linejoin="round"/>
<path d="M731.9 667.2 756.7 667.5 782.2 667.3 801.2 667.5 815.5 667.9 825.1 668.5 833.1 669.1 840.8 670.1 847.0 671.4 853.7 673.2 858.6 675.2 864.1 677.8 867.3 679.9 870.3 682.8 872.9 685.8 875.2 689.4 877.0 693.1 878.9 697.7 880.8 703.3 882.1 708.1 882.8 712.5 883.7 719.4 885.4 737.5 887.1 763.1 888.9 794.6 891.1 869.7 892.6 905.7 894.4 939.2 896.2 961.7 898.0 939.2 899.8 905.7 901.3 869.7 903.5 794.6 905.3 763.1 907.0 737.5 908.7 719.4 909.6 712.5 910.3 708.1 911.6 703.3 913.5 697.7 915.4 693.1 917.2 689.4 919.5 685.8 922.1 682.8 925.1 679.9 928.3 677.8 933.8 675.2 938.7 673.2 945.4 671.4 951.6 670.1 959.3 669.1 967.3 668.5 976.9 667.9 991.2 667.5 1010.2 667.3 1035.7 667.5 1060.5 667.2" stroke="#76bcb0" stroke-width="2.5" fill="none" stroke-linejoin="round"/>
<path d="M731.9 667.2 752.6 667.5 799.8 667.6 823.2 669.0 833.0 670.0 839.8 671.1 848.2 672.8 853.8 674.4 861.0 677.1 866.8 679.9 871.3 682.6 875.4 685.8 878.9 689.3 883.6 694.9 885.5 697.7 887.1 700.9 888.6 705.0 889.7 708.9 890.5 713.2 891.3 719.1 892.7 735.9 894.1 761.0 895.3 794.2 896.2 881.2 897.1 794.2 898.3 761.0 899.7 735.9 901.1 719.1 901.9 713.2 902.7 708.9 903.8 705.0 905.3 700.9 906.9 697.7 908.8 694.9 913.5 689.3 917.0 685.8 921.1 682.6 925.6 679.9 931.4 677.1 938.6 674.4 944.2 672.8 952.6 671.1 959.4 670.0 969.2 669.0 992.6 667.6 1039.8 667.5 1060.5 667.2" stroke="#5da843" stroke-width="2.5" fill="none" stroke-linejoin="round"/>
<path d="M731.9 667.1 792.6 667.5 809.2 668.3 819.8 669.1 828.8 670.2 847.8 672.8 859.6 674.9 867.3 676.8 872.9 678.7 877.7 681.0 882.4 684.2 886.9 688.1 890.7 692.1 892.9 695.9 896.2 703.0 899.5 695.9 901.7 692.1 905.5 688.1 910.0 684.2 914.7 681.0 919.5 678.7 925.1 676.8 932.8 674.9 944.6 672.8 963.6 670.2 972.6 669.1 983.2 668.3 999.8 667.5 1060.5 667.1" stroke="#dcdc44" stroke-width="2.5" fill="none" stroke-linejoin="round"/>
<path d="M731.9 667.0 749.3 667.2 798.2 667.3 821.8 668.4 842.5 670.1 860.6 672.3 869.5 673.8 874.5 674.9 881.0 676.8 887.9 679.3 891.7 681.0 896.2 683.6 900.7 681.0 904.5 679.3 911.4 676.8 917.9 674.9 922.9 673.8 931.8 672.3 949.9 670.1 970.6 668.4 994.2 667.3 1043.1 667.2 1060.5 667.0" stroke="#d8843a" stroke-width="2.5" fill="none" stroke-linejoin="round"/>
<path d="M731.9 666.8 751.7 667.0 796.0 666.9 817.5 667.4 833.9 668.0 851.2 669.2 870.5 671.2 876.4 672.1 896.2 675.6 916.0 672.1 921.9 671.2 941.2 669.2 958.5 668.0 974.9 667.4 996.4 666.9 1040.7 667.0 1060.5 666.8" stroke="#c84040" stroke-width="2.5" fill="none" stroke-linejoin="round"/>
<path d="M732.8 666.6 768.2 667.0 778.5 666.6 793.0 666.6 817.9 667.0 838.4 667.5 853.7 668.4 870.7 669.7 888.3 672.3 896.2 673.2 904.1 672.3 921.7 669.7 938.7 668.4 954.0 667.5 974.5 667.0 999.4 666.6 1013.9 666.6 1024.3 667.0 1059.9 666.6" stroke="#d8343e" stroke-width="2.5" fill="none" stroke-linejoin="round"/>
<text x="1041.50" y="705.20" class="teq"><tspan font-style="italic">T</tspan>=</text>
<path d="M993.90 732.85h25.2" stroke="#4a4696" stroke-width="2.0"/>
<text x="1035.50" y="740.15" class="lgb">0.<tspan class="h1">1</tspan>K</text>
<path d="M993.90 758.42h25.2" stroke="#464b94" stroke-width="2.0"/>
<text x="1035.50" y="765.72" class="lgb">0.2K</text>
<path d="M993.90 783.99h25.2" stroke="#43689f" stroke-width="2.0"/>
<text x="1035.50" y="791.29" class="lgb">0.3K</text>
<path d="M993.90 809.56h25.2" stroke="#45a6d0" stroke-width="2.0"/>
<text x="1035.50" y="816.86" class="lgb">0.4K</text>
<path d="M993.90 835.13h25.2" stroke="#76bcb0" stroke-width="2.0"/>
<text x="1035.50" y="842.43" class="lgb">0.5K</text>
<path d="M993.90 860.70h25.2" stroke="#5da843" stroke-width="2.0"/>
<text x="1035.50" y="868.00" class="lgb">0.6K</text>
<path d="M993.90 886.27h25.2" stroke="#dcdc44" stroke-width="2.0"/>
<text x="1035.50" y="893.57" class="lgb">0.7K</text>
<path d="M993.90 911.84h25.2" stroke="#d8843a" stroke-width="2.0"/>
<text x="1035.50" y="919.14" class="lgb">0.8K</text>
<path d="M993.90 937.41h25.2" stroke="#c84040" stroke-width="2.0"/>
<text x="1035.50" y="944.71" class="lgb">0.9K</text>
<path d="M993.90 962.98h25.2" stroke="#d8343e" stroke-width="2.0"/>
<text x="1035.50" y="970.28" class="lgb"><tspan class="h1">1</tspan>.0K</text>
<text x="671" y="968" class="pl">d</text>
<g transform="translate(859.40 1049.80)"><text x="0" y="0" class="ax">μ</text><text x="15.8" y="5.5" class="axs">0</text><text x="28.4" y="0" class="ax" font-style="italic">H</text><path d="M46.5 4.4H61.4M54 -7.6V4.4" stroke="#1c1c1c" stroke-width="2" fill="none"/><text x="68.2" y="0" class="ax">(T)</text></g>
<text x="690.30" y="569.50" class="ti" style="font-size:33.3px">6QL Bi<tspan class="sb" dy="3">2</tspan><tspan dy="-3">Se</tspan><tspan class="sb" dy="3">3</tspan><tspan dy="-3">/monolayer NbSe</tspan><tspan class="sb" dy="3">2</tspan></text>
<path transform="translate(41.20 308.77) scale(0.008545 -0.008545)" d="M515 0L515 1237L197 1010L197 1180L530 1409L696 1409L696 0Z" fill="#1c1c1c" stroke="#1c1c1c" stroke-width="35.1"/>
<path transform="translate(549.09 169.30) scale(0.009424 -0.009424)" d="M515 0L515 1237L197 1010L197 1180L530 1409L696 1409L696 0Z" fill="#1c1c1c" stroke="#1c1c1c" stroke-width="31.8"/>
<path transform="translate(533.00 264.18) scale(0.009424 -0.009424)" d="M515 0L515 1237L197 1010L197 1180L530 1409L696 1409L696 0Z" fill="#1c1c1c" stroke="#1c1c1c" stroke-width="31.8"/>
<path transform="translate(549.09 264.18) scale(0.009424 -0.009424)" d="M515 0L515 1237L197 1010L197 1180L530 1409L696 1409L696 0Z" fill="#1c1c1c" stroke="#1c1c1c" stroke-width="31.8"/>
<path transform="translate(533.00 287.90) scale(0.009424 -0.009424)" d="M515 0L515 1237L197 1010L197 1180L530 1409L696 1409L696 0Z" fill="#1c1c1c" stroke="#1c1c1c" stroke-width="31.8"/>
<path transform="translate(533.00 311.62) scale(0.009424 -0.009424)" d="M515 0L515 1237L197 1010L197 1180L530 1409L696 1409L696 0Z" fill="#1c1c1c" stroke="#1c1c1c" stroke-width="31.8"/>
<path transform="translate(606.40 280.50) scale(0.008545 -0.008545)" d="M515 0L515 1237L197 1010L197 1180L530 1409L696 1409L696 0Z" fill="#1c1c1c" stroke="#1c1c1c" stroke-width="35.1"/>
<path transform="translate(1070.47 232.20) scale(0.010107 -0.010107)" d="M515 0L515 1237L197 1010L197 1180L530 1409L696 1409L696 0Z" fill="#1c1c1c" stroke="#1c1c1c" stroke-width="29.7"/>
<path transform="translate(708.00 24.00) scale(0.016113 -0.016113)" d="M515 0L515 1237L197 1010L197 1180L530 1409L696 1409L696 0Z" fill="#1c1c1c" stroke="#1c1c1c" stroke-width="18.6"/>
<path transform="translate(26.60 854.50) scale(0.008545 -0.008545)" d="M515 0L515 1237L197 1010L197 1180L530 1409L696 1409L696 0Z" fill="#1c1c1c" stroke="#1c1c1c" stroke-width="35.1"/>
<path transform="translate(483.27 720.30) scale(0.010107 -0.010107)" d="M515 0L515 1237L197 1010L197 1180L530 1409L696 1409L696 0Z" fill="#1c1c1c" stroke="#1c1c1c" stroke-width="29.7"/>
<path transform="translate(466.00 925.34) scale(0.010107 -0.010107)" d="M515 0L515 1237L197 1010L197 1180L530 1409L696 1409L696 0Z" fill="#1c1c1c" stroke="#1c1c1c" stroke-width="29.7"/>
<path transform="translate(466.00 950.97) scale(0.010107 -0.010107)" d="M515 0L515 1237L197 1010L197 1180L530 1409L696 1409L696 0Z" fill="#1c1c1c" stroke="#1c1c1c" stroke-width="29.7"/>
<path transform="translate(483.27 950.97) scale(0.010107 -0.010107)" d="M515 0L515 1237L197 1010L197 1180L530 1409L696 1409L696 0Z" fill="#1c1c1c" stroke="#1c1c1c" stroke-width="29.7"/>
<path transform="translate(604.90 797.10) scale(0.008545 -0.008545)" d="M515 0L515 1237L197 1010L197 1180L530 1409L696 1409L696 0Z" fill="#1c1c1c" stroke="#1c1c1c" stroke-width="35.1"/>
<path transform="translate(1052.77 740.15) scale(0.010107 -0.010107)" d="M515 0L515 1237L197 1010L197 1180L530 1409L696 1409L696 0Z" fill="#1c1c1c" stroke="#1c1c1c" stroke-width="29.7"/>
<path transform="translate(1035.50 970.28) scale(0.010107 -0.010107)" d="M515 0L515 1237L197 1010L197 1180L530 1409L696 1409L696 0Z" fill="#1c1c1c" stroke="#1c1c1c" stroke-width="29.7"/>
</svg>
</body></html>
